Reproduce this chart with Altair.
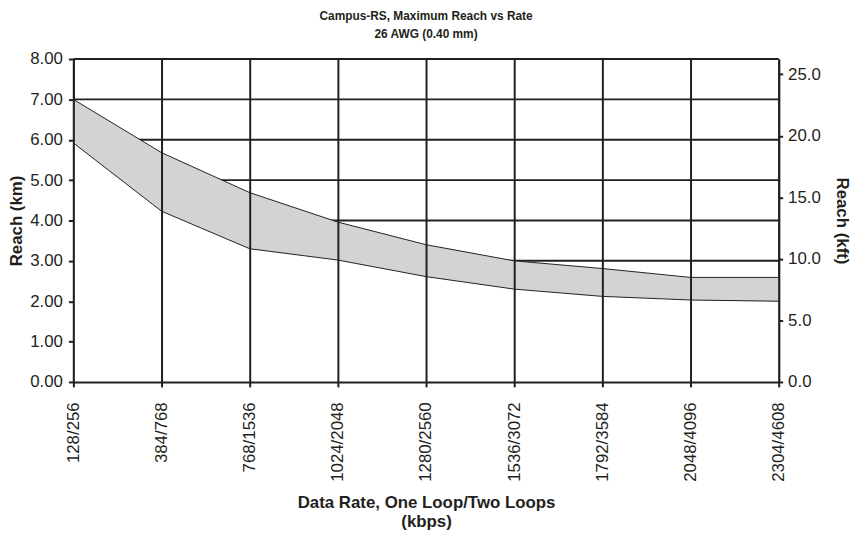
import altair as alt
import pandas as pd

# ---- data ----
rates = ["128/256", "384/768", "768/1536", "1024/2048", "1280/2560",
         "1536/3072", "1792/3584", "2048/4096", "2304/4608"]
reach_max_km = [7.00, 5.68, 4.69, 3.96, 3.40, 3.00, 2.81, 2.59, 2.59]
reach_min_km = [5.92, 4.23, 3.30, 3.02, 2.61, 2.30, 2.12, 2.03, 2.00]
km_ticks = [0, 1, 2, 3, 4, 5, 6, 7, 8]
kft_ticks = [0, 5, 10, 15, 20, 25]
KM_TO_KFT = 3.28084

DARK = "#231f20"
BAND = "#d1d3d4"
FONT = "Liberation Sans"

df = pd.DataFrame({"rate": rates, "hi": reach_max_km, "lo": reach_min_km})
df["hi_kft"] = df["hi"] * KM_TO_KFT
grid_df = pd.DataFrame({"y": km_ticks[1:]})

yscale = alt.Scale(domain=[km_ticks[0], km_ticks[-1]], nice=False)
left_ax = alt.Axis(
    values=km_ticks, format=".2f", title="Reach (km)",
    titleFontSize=17, titleFontWeight="bold", titleColor=DARK, titlePadding=4,
    labelFontSize=17, labelColor=DARK, labelPadding=6,
    tickSize=5, tickWidth=2, tickColor=DARK,
    domainWidth=2, domainColor=DARK, grid=False,
)
xenc = alt.X(
    "rate:O", sort=rates, scale=alt.Scale(type="point", padding=0),
    axis=alt.Axis(
        title=["Data Rate, One Loop/Two Loops", "(kbps)"],
        titleFontSize=17, titleFontWeight="bold", titleColor=DARK,
        titleLineHeight=20, titlePadding=13,
        labelAngle=-90, labelFontSize=17, labelColor=DARK, labelPadding=15,
        tickSize=5, tickWidth=2, tickColor=DARK,
        domainWidth=2, domainColor=DARK,
        grid=True, gridColor=DARK, gridWidth=2, gridOpacity=1, zindex=1,
    ),
)

hgrid = alt.Chart(grid_df).mark_rule(color=DARK, strokeWidth=2).encode(
    y=alt.Y("y:Q", scale=yscale, axis=left_ax)
)

white = alt.Chart(df).mark_area(color="white", opacity=1).encode(
    x=xenc, y=alt.Y("lo:Q", scale=yscale, axis=left_ax)
)

band = alt.Chart(df).mark_area(color=BAND, opacity=1).encode(
    x=xenc, y=alt.Y("hi:Q", scale=yscale, axis=left_ax), y2="lo:Q"
)

line_hi = alt.Chart(df).mark_line(color=DARK, strokeWidth=1).encode(
    x=xenc, y=alt.Y("hi:Q", scale=yscale, axis=left_ax)
)
line_lo = alt.Chart(df).mark_line(color=DARK, strokeWidth=1).encode(
    x=xenc, y=alt.Y("lo:Q", scale=yscale, axis=left_ax)
)

main = alt.layer(hgrid, white, band, line_hi, line_lo)

right = alt.Chart(df).mark_point(opacity=0).encode(
    x=xenc,
    y=alt.Y("hi_kft:Q",
            scale=alt.Scale(domain=[0, km_ticks[-1] * KM_TO_KFT], nice=False),
            axis=alt.Axis(
                orient="right", values=kft_ticks, format=".1f", title="Reach (kft)",
                titleFontSize=17, titleFontWeight="bold", titleColor=DARK, titlePadding=12,
                labelFontSize=17, labelColor=DARK, labelPadding=5,
                tickSize=4, tickWidth=2, tickColor=DARK,
                domainWidth=2, domainColor=DARK, grid=False,
            )),
)

chart = alt.layer(main, right).resolve_scale(y="independent").properties(
    width=712, height=326,
    title=alt.TitleParams(
        ["Campus-RS, Maximum Reach vs Rate", "26 AWG (0.40 mm)"],
        font=FONT, fontSize=12, fontWeight="bold", color=DARK,
        lineHeight=18, anchor="middle", offset=9,
    ),
    autosize=alt.AutoSizeParams(type="none"),
    padding={"left": 66, "top": 49, "right": 75, "bottom": 153},
).configure(font=FONT).configure_view(stroke=None)

chart.save("out.html", embed_options={"renderer": "svg", "actions": False})
